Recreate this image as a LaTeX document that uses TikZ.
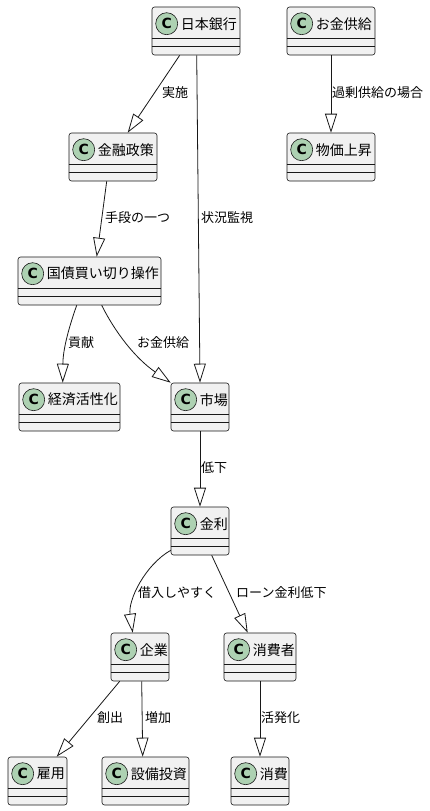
\documentclass[tikz,border=0pt]{standalone}
\usepackage{fontspec}
\usetikzlibrary{arrows.meta,calc}
\newfontfamily\cjk{Noto Sans CJK JP}
\newfontfamily\cfont{DejaVu Sans}
\definecolor{edgec}{HTML}{181818}
\definecolor{boxfill}{HTML}{F1F1F1}
\definecolor{circfill}{HTML}{ADD1B2}
\tikzset{
  clsbox/.style={draw=edgec, fill=boxfill, line width=0.6pt, rounded corners=2.5pt, inner sep=0pt, minimum height=48pt},
  circ/.style={circle, draw=edgec, fill=circfill, line width=0.6pt, minimum size=22pt, inner sep=0pt, font=\cfont\bfseries\fontsize{14}{14}\selectfont},
  clstext/.style={anchor=west, inner sep=0pt, font=\cjk\fontsize{14}{14}\selectfont},
  sepline/.style={draw=edgec, line width=0.6pt},
  rel/.style={draw=edgec, line width=0.8pt, -{Triangle[open, length=19pt, width=12pt, line width=0.8pt]}},
  lbl/.style={anchor=west, inner sep=0pt, font=\cjk\fontsize{13}{13}\selectfont},
}
\newcommand\umlclass[5]{%
  \node[clsbox, minimum width=#4pt] (#1) at (#2+#4/2, #3+24) {};
  \node[circ] (#1c) at ($(#1.north west)+(15,17)$) {C};
  \node[clstext] (#1t) at ($(#1.north west)+(29,17)$) {#5};
  \draw[sepline] ($(#1.north west)+(0,32)$) -- ($(#1.north east)+(0,32)$);
  \draw[sepline] ($(#1.north west)+(0,40)$) -- ($(#1.north east)+(0,40)$);
}
\begin{document}
\begin{tikzpicture}[x=1pt, y=-1pt]
\useasboundingbox[fill=white] (0,0) rectangle (430,811);
\umlclass{boj}{152}{7}{88}{日本銀行}
\umlclass{okane}{287}{7}{88}{お金供給}
\umlclass{bukka}{287}{133}{88}{物価上昇}
\umlclass{kinyu}{69}{133}{88}{金融政策}
\umlclass{kokusai}{18}{257}{143}{国債買い切り操作}
\umlclass{keizai}{19}{383}{101}{経済活性化}
\umlclass{shijo}{171}{383}{58}{市場}
\umlclass{kinri}{171}{507}{58}{金利}
\umlclass{kigyo}{111}{633}{58}{企業}
\umlclass{shohisha}{224}{633}{72}{消費者}
\umlclass{koyo}{8}{757}{59}{雇用}
\umlclass{setsubi}{102}{757}{87}{設備投資}
\umlclass{shohi}{231}{757}{58}{消費}
% edges
\draw[rel] ($(boj.south west)+(28,0)$) -- ($(kinyu.north west)+(59,0)$);
\node[lbl] (l1) at (162,93) {実施};
\draw[rel] ($(boj.south west)+(45,0)$) -- (shijo.north);
\node[lbl] (l2) at (201,218) {状況監視};
\draw[rel] (okane.south) -- (bukka.north);
\node[lbl] (l3) at (332,93) {過剰供給の場合};
\draw[rel] ($(kinyu.south west)+(38,0)$) -- ($(kokusai.north west)+(79,0)$);
\node[lbl] (l4) at (105,218) {手段の一つ};
\draw[rel] ($(kokusai.south west)+(59,0)$) .. controls (68,330) and (63,350) .. ($(keizai.north west)+(44,0)$);
\node[lbl] (l5) at (68,343) {貢献};
\draw[rel] ($(kokusai.south west)+(84,0)$) .. controls (115,332) and (135,358) .. (shijo.north west);
\node[lbl] (l6) at (137,343) {お金供給};
\draw[rel] (shijo.south) -- (kinri.north);
\node[lbl] (l7) at (201,468) {低下};
\draw[rel] ($(kinri.south west)+(0,-5)$) .. controls (145,565) and (128,600) .. ($(kigyo.north west)+(22,0)$);
\node[lbl] (l8) at (138,593) {借入しやすく};
\draw[rel] ($(kinri.south west)+(41,0)$) -- ($(shohisha.north west)+(24,0)$);
\node[lbl] (l9) at (236,593) {ローン金利低下};
\draw[rel] ($(kigyo.south west)+(9,0)$) -- ($(koyo.north west)+(49,0)$);
\node[lbl] (l10) at (97,718) {創出};
\draw[rel] ($(kigyo.south west)+(31,0)$) -- ($(setsubi.north west)+(41,0)$);
\node[lbl] (l11) at (145,718) {増加};
\draw[rel] (shohisha.south) -- (shohi.north);
\node[lbl] (l12) at (261,718) {活発化};
\end{tikzpicture}
\end{document}
